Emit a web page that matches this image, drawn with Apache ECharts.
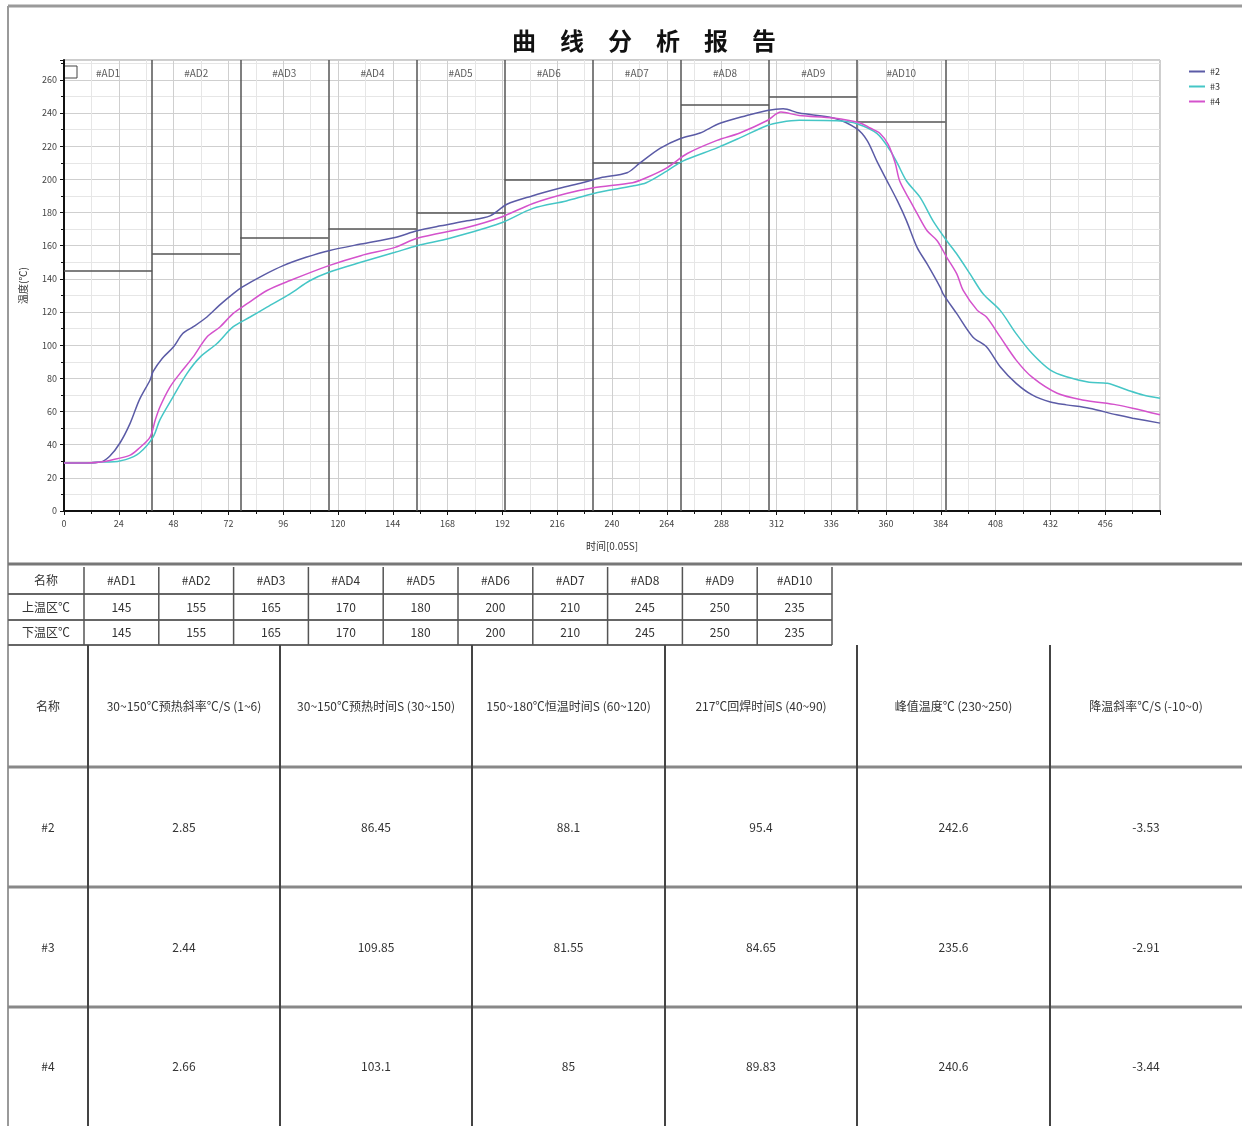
<!DOCTYPE html>
<html>
<head>
<meta charset="utf-8">
<title>曲线分析报告</title>
<script src="https://cdn.jsdelivr.net/npm/echarts@6/dist/echarts.min.js"></script>
<style>
  html, body { margin: 0; padding: 0; background: #fff; }
  #report { width: 1242px; height: 1126px; }
</style>
</head>
<body>
<div id="report"></div>
<script>
// 曲线数据 [时间, 温度]
var curve2 = [[0,29],[10,29],[16,29.5],[20,33],[24.5,41],[29,53],[33,67],[37.7,79],[39,84],[43,92],[48,99],[52,107],[56.5,111],[62.6,117],[68,124],[74,131],[78,135],[87,142],[96,148],[106,153],[116,157],[130,161],[145,165],[154.6,169],[165,172],[176.5,175],[186.6,178],[194,185],[205,190],[217,194.6],[227,198],[235,201],[246.6,204],[252,209.6],[261,218.7],[270,224.7],[278.6,228],[287,233.7],[299,238.5],[308,241.6],[315,242.6],[322,240],[337,237],[347,230.7],[351.7,223.5],[356,211],[360.5,199],[365,187],[369,175],[373.6,159],[378,149],[383.7,135],[385,131],[391,119],[398,105],[404,99],[410,87],[417,77],[424,70],[432,65.7],[439,64],[449,62],[461,58],[468,56],[480,53]];
var curve3 = [[0,29],[10,29],[16,29.5],[20,29.5],[27,31],[33,35],[39,44.6],[42,55],[47.7,68.7],[53.9,83],[59.6,92.8],[67,101],[74,111],[81.5,117],[88.9,123],[99,131],[107.8,139],[116,144],[130,150],[145,156],[154.6,160],[169,164.5],[191,173.5],[205.4,182.5],[220,187],[232,191.5],[249,196],[255,198],[264,205],[271,211],[286,219],[296,225],[308,232.5],[314,234.5],[322,235.6],[340,235.2],[347,233.7],[356,227.7],[361.8,217.5],[365,209.6],[369,199],[375,189],[380.6,175],[386.6,163],[391,155],[396.8,143],[402.5,131],[410,121],[417,107],[424,95],[432,85],[439,81],[449,77.7],[457,77],[465.6,73],[472.6,70],[480,68]];
var curve4 = [[0,29],[10,29],[16,29.5],[20,30.5],[29,33.7],[33,38],[37.7,44.6],[40,55],[42,62.7],[46.4,74.7],[50.8,83],[56.5,92.8],[62.6,105],[68.3,111],[74,119],[80.2,125],[88.9,133],[99,139],[116,148],[130,154],[145,159],[154.6,164.5],[176.5,171],[191,177],[205.4,185.5],[220,191.5],[232,195],[249,198],[255,201],[264,207],[273,215.6],[286,223.5],[296,228],[308,235.5],[314,240.6],[322,238.5],[337,237],[348.7,234],[353,231],[357.4,227.7],[361,221],[364,210],[366,199],[370.6,187],[373.6,179.5],[378,169],[382.4,163],[386.6,153],[391,143],[393.8,133],[400,121],[404,117],[410,105],[417,91],[424,80.7],[435,71],[446,67],[461,64],[468,62],[480,58]];

// 温区
var zoneNames = ["#AD1","#AD2","#AD3","#AD4","#AD5","#AD6","#AD7","#AD8","#AD9","#AD10"];
var zoneEdges = [0,38.6,77.2,115.8,154.4,193,231.6,270.2,308.8,347.4,386];
var upperTemp = [145,155,165,170,180,200,210,245,250,235];
var lowerTemp = [145,155,165,170,180,200,210,245,250,235];

// 分析结果
var metricHeaders = ["名称","30~150℃预热斜率℃/S (1~6)","30~150℃预热时间S (30~150)","150~180℃恒温时间S (60~120)","217℃回焊时间S (40~90)","峰值温度℃ (230~250)","降温斜率℃/S (-10~0)"];
var sampleNames = ["#2","#3","#4"];
var preheatSlope = [2.85,2.44,2.66];
var preheatTime = [86.45,109.85,103.1];
var soakTime = [88.1,81.55,85];
var reflowTime = [95.4,84.65,89.83];
var peakTemp = [242.6,235.6,240.6];
var coolSlope = [-3.53,-2.91,-3.44];

var font = '"Noto Sans CJK SC", sans-serif';
var myChart = echarts.init(document.getElementById("report"));

// 温区竖线 / 上限线
var zoneLines = [];
for (var i = 1; i < zoneEdges.length; i++) {
  zoneLines.push({ xAxis: zoneEdges[i] });
}
for (var j = 0; j < zoneNames.length; j++) {
  zoneLines.push([
    { coord: [zoneEdges[j], upperTemp[j]] },
    { coord: [zoneEdges[j + 1], upperTemp[j]] }
  ]);
}
var zoneLabels = zoneNames.map(function (n, k) {
  return { name: n, value: [(zoneEdges[k] + zoneEdges[k + 1]) / 2, 264] };
});

// 表格
var graphics = [];
function line(x1, y1, x2, y2, color, w) {
  graphics.push({ type: "line", silent: true, shape: { x1: x1, y1: y1, x2: x2, y2: y2 }, style: { stroke: color, lineWidth: w } });
}
function text(x, y, s, size) {
  graphics.push({
    type: "text", silent: true, x: x, y: y,
    style: { text: s, fill: "#333", font: (size || 11) + "px " + font, align: "center", verticalAlign: "middle", textAlign: "center", textVerticalAlign: "middle" }
  });
}

// 外框
line(8, 6, 1242, 6, "#9a9a9a", 3);
line(8, 6, 8, 1126, "#9a9a9a", 2);
line(8, 564, 1242, 564, "#777", 3);

// 温区表
var t1Rows = [567, 594, 620, 645];
var t1Cols = [8];
for (var c = 0; c <= 10; c++) t1Cols.push(84 + c * 74.8);
var t1Data = [["名称"].concat(zoneNames), ["上温区℃"].concat(upperTemp), ["下温区℃"].concat(lowerTemp)];
for (var r = 0; r < 3; r++) {
  line(8, t1Rows[r + 1], t1Cols[11], t1Rows[r + 1], "#666", 2);
  for (var c2 = 0; c2 < 11; c2++) {
    text((t1Cols[c2] + t1Cols[c2 + 1]) / 2, (t1Rows[r] + t1Rows[r + 1]) / 2, String(t1Data[r][c2]), 12);
  }
}
for (var c3 = 1; c3 < t1Cols.length; c3++) {
  line(t1Cols[c3], t1Rows[0], t1Cols[c3], t1Rows[3], "#555", 1.5);
}

// 结果表
var t2Rows = [645, 767, 887, 1007, 1126];
var t2Cols = [8, 88, 280, 472, 665, 857, 1050, 1242];
var t2Data = [metricHeaders];
for (var s = 0; s < sampleNames.length; s++) {
  t2Data.push([sampleNames[s], preheatSlope[s], preheatTime[s], soakTime[s], reflowTime[s], peakTemp[s], coolSlope[s]]);
}
for (var r2 = 0; r2 < t2Data.length; r2++) {
  if (r2 > 0) line(8, t2Rows[r2], 1242, t2Rows[r2], "#888", 3);
  for (var c4 = 0; c4 < 7; c4++) {
    text((t2Cols[c4] + t2Cols[c4 + 1]) / 2, (t2Rows[r2] + t2Rows[r2 + 1]) / 2, String(t2Data[r2][c4]), 12);
  }
}
for (var c5 = 1; c5 < t2Cols.length - 1; c5++) {
  line(t2Cols[c5], t2Rows[0], t2Cols[c5], 1126, "#444", 2);
}
// 左上小方框
graphics.push({ type: "rect", silent: true, shape: { x: 64, y: 66, width: 13, height: 12 }, style: { fill: "#fff", stroke: "#444", lineWidth: 1 } });

var option = {
  backgroundColor: "#fff",
  animation: false,
  color: ["#5b5ba6", "#45c6c6", "#d452cc"],
  title: {
    text: "曲　线　分　析　报　告",
    left: 507,
    top: 24,
    textStyle: { fontFamily: font, fontSize: 24, fontWeight: "bold", color: "#111" }
  },
  legend: {
    data: ["#2", "#3", "#4"],
    orient: "vertical",
    left: 1184,
    top: 62,
    icon: "rect",
    itemWidth: 16,
    itemHeight: 2,
    itemGap: 6,
    textStyle: { fontSize: 9, color: "#333", fontFamily: font }
  },
  grid: {
    left: 64, top: 60, width: 1096, height: 451,
    show: true, borderColor: "#999", borderWidth: 1
  },
  xAxis: {
    type: "value",
    min: 0, max: 480, interval: 24,
    name: "时间[0.05S]",
    nameLocation: "middle",
    nameGap: 30,
    nameTextStyle: { fontSize: 10, color: "#333", fontFamily: font },
    axisLine: { lineStyle: { color: "#111", width: 2 } },
    axisTick: { length: 4, lineStyle: { color: "#111" } },
    minorTick: { show: true, splitNumber: 2, length: 3, lineStyle: { color: "#111" } },
    axisLabel: { fontSize: 9, color: "#444", fontFamily: font, showMaxLabel: false, margin: 8 },
    splitLine: { show: true, lineStyle: { color: "#cfcfcf" } },
    minorSplitLine: { show: true, lineStyle: { color: "#e6e6e6" } }
  },
  yAxis: {
    type: "value",
    min: 0, max: 272, interval: 20,
    name: "温度(℃)",
    nameLocation: "middle",
    nameRotate: 90,
    nameGap: 36,
    nameTextStyle: { fontSize: 10, color: "#333", fontFamily: font },
    axisLine: { show: true, lineStyle: { color: "#111", width: 2 } },
    axisTick: { show: true, length: 4, lineStyle: { color: "#111" } },
    minorTick: { show: true, splitNumber: 2, length: 3, lineStyle: { color: "#111" } },
    axisLabel: { fontSize: 9, color: "#444", fontFamily: font, showMaxLabel: false, margin: 7 },
    splitLine: { show: true, lineStyle: { color: "#cfcfcf" } },
    minorSplitLine: { show: true, lineStyle: { color: "#e6e6e6" } }
  },
  graphic: graphics,
  series: [
    {
      name: "#2", type: "line", data: curve2, symbol: "none", smooth: 0.3,
      lineStyle: { width: 1.5 }, z: 5,
      markLine: {
        silent: true, symbol: "none", label: { show: false },
        lineStyle: { color: "#555", width: 1.5, type: "solid" },
        data: zoneLines
      }
    },
    { name: "#3", type: "line", data: curve3, symbol: "none", smooth: 0.3, lineStyle: { width: 1.5 }, z: 5 },
    { name: "#4", type: "line", data: curve4, symbol: "none", smooth: 0.3, lineStyle: { width: 1.5 }, z: 5 },
    {
      name: "温区", type: "scatter", data: zoneLabels, symbolSize: 0, silent: true,
      label: { show: true, position: "inside", formatter: "{b}", fontSize: 10, color: "#333", fontFamily: font }
    }
  ]
};

myChart.setOption(option);
</script>
</body>
</html>
